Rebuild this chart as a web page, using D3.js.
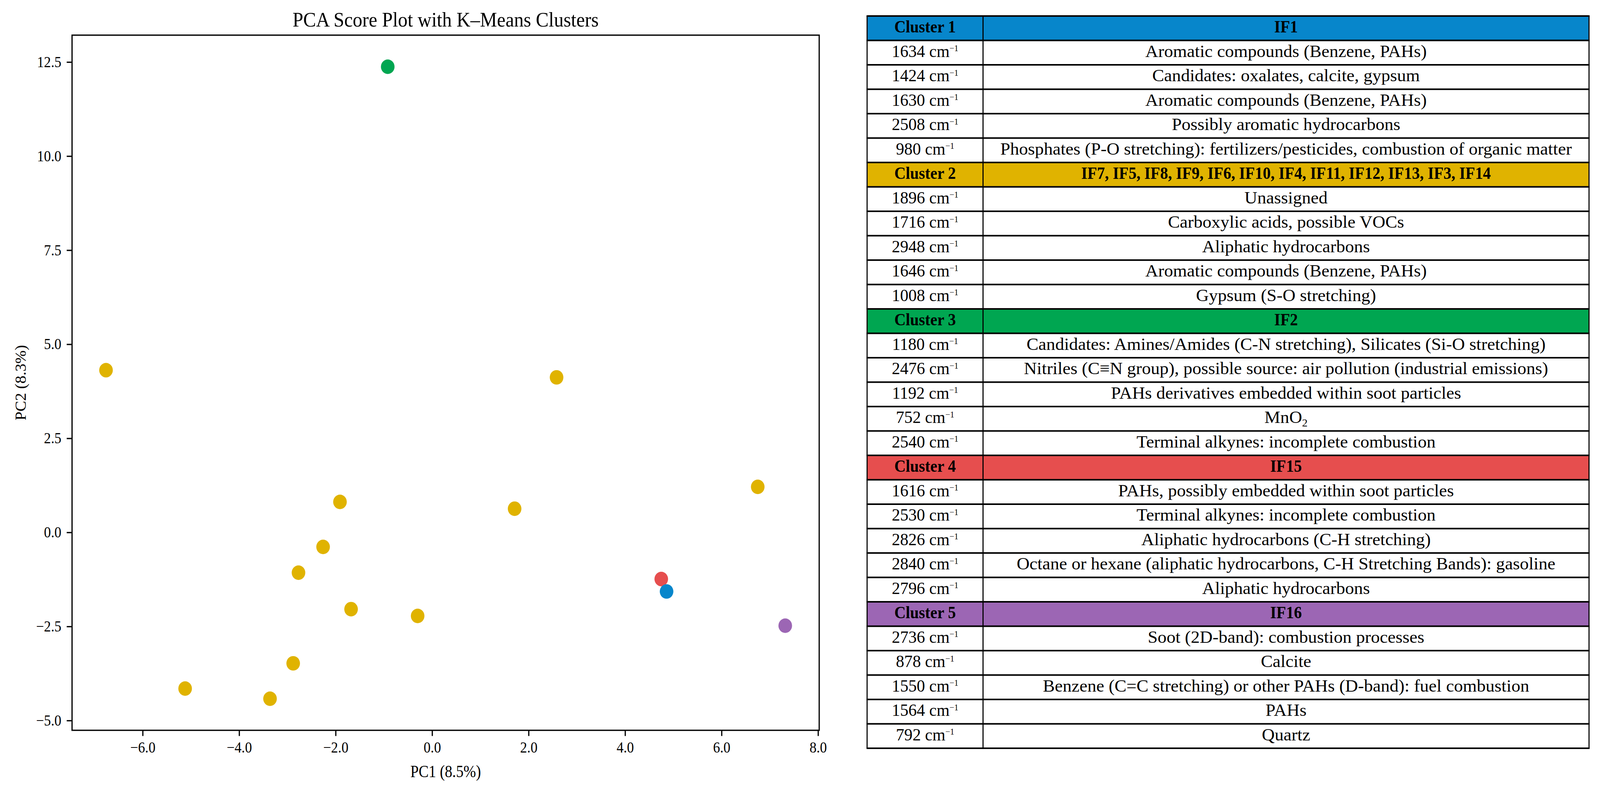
<!DOCTYPE html>
<html><head><meta charset="utf-8">
<script src="https://cdn.jsdelivr.net/npm/d3@7/dist/d3.min.js"></script>
<style>
html,body{margin:0;padding:0;background:#fff;overflow:hidden;width:100%;height:100%;}
svg{display:block;width:100vw;height:100vh;}
</style></head><body>
<svg id="chart" viewBox="0 0 4375 2028" preserveAspectRatio="none"></svg>
<script>
// ---------------- DATA ----------------
// PCA scores (PC1, PC2) and K-means cluster index (0..4) of each sample
const pc1 = [-6.76, 2.58, 6.75, -1.91, 1.71, -2.26, -2.77, -1.68, -0.30, -2.88, -5.12, -3.36, -0.92, 4.75, 4.86, 7.32];
const pc2 = [4.31, 4.12, 1.21, 0.81, 0.63, -0.385, -1.07, -2.04, -2.22, -3.48, -4.15, -4.42, 12.375, -1.24, -1.57, -2.48];
const pointCluster = [1, 1, 1, 1, 1, 1, 1, 1, 1, 1, 1, 1, 2, 3, 0, 4];

const clusterNames = ["Cluster 1", "Cluster 2", "Cluster 3", "Cluster 4", "Cluster 5"];
const clusterMembers = ["IF1", "IF7, IF5, IF8, IF9, IF6, IF10, IF4, IF11, IF12, IF13, IF3, IF14", "IF2", "IF15", "IF16"];
const clusterColors = ["#0786CB", "#E0B300", "#00A651", "#E64E4E", "#9C66B4"];

const wavenumbers = [
  [1634, 1424, 1630, 2508, 980],
  [1896, 1716, 2948, 1646, 1008],
  [1180, 2476, 1192, 752, 2540],
  [1616, 2530, 2826, 2840, 2796],
  [2736, 878, 1550, 1564, 792]
];
const assignments = [
  ["Aromatic compounds (Benzene, PAHs)", "Candidates: oxalates, calcite, gypsum", "Aromatic compounds (Benzene, PAHs)", "Possibly aromatic hydrocarbons", "Phosphates (P-O stretching): fertilizers/pesticides, combustion of organic matter"],
  ["Unassigned", "Carboxylic acids, possible VOCs", "Aliphatic hydrocarbons", "Aromatic compounds (Benzene, PAHs)", "Gypsum (S-O stretching)"],
  ["Candidates: Amines/Amides (C-N stretching), Silicates (Si-O stretching)", "Nitriles (C\u2261N group), possible source: air pollution (industrial emissions)", "PAHs derivatives embedded within soot particles", "MnO\u2082", "Terminal alkynes: incomplete combustion"],
  ["PAHs, possibly embedded within soot particles", "Terminal alkynes: incomplete combustion", "Aliphatic hydrocarbons (C-H stretching)", "Octane or hexane (aliphatic hydrocarbons, C-H Stretching Bands): gasoline", "Aliphatic hydrocarbons"],
  ["Soot (2D-band): combustion processes", "Calcite", "Benzene (C=C stretching) or other PAHs (D-band): fuel combustion", "PAHs", "Quartz"]
];

const xTicks = [-6, -4, -2, 0, 2, 4, 6, 8];
const yTicks = [-5, -2.5, 0, 2.5, 5, 7.5, 10, 12.5];
const titleText = "PCA Score Plot with K\u2013Means Clusters";
const xLabel = "PC1 (8.5%)";
const yLabel = "PC2 (8.3%)";

// ---------------- LAYOUT / STYLE ----------------
const FONT = '"Palatino Linotype","Book Antiqua",Palatino,"Liberation Serif","Times New Roman",serif';
const svg = d3.select("#chart");
const plot = {left: 197, right: 2240, top: 90, bottom: 1870};
const TB = {left: 2371, mid: 2688, right: 4345, top: 41, bottom: 1916};
const fsTitle = 52, fsLabel = 43.5, fsTick = 39, fsTable = 45;

// horizontal stretch factors so the fallback serif occupies Palatino's widths
function measure(str, fs, weight) {
  const t = svg.append("text").attr("font-family", FONT).attr("font-size", fs)
    .attr("font-weight", weight || "normal").text(str);
  const w = t.node().getComputedTextLength();
  t.remove();
  return w;
}
const kTitle = 837 / measure(titleText, fsTitle);
const kLabel = 193 / measure(xLabel, fsLabel);
const kTick = 66.5 / measure("12.5", fsTick);
const kTable = 1563 / measure(assignments[0][4], fsTable);
const kBold = 1120 / measure(clusterMembers[1], fsTable, "bold");
const kCol1 = 158 / measure("1634 cm", fsTable);

// ---------------- SCATTER ----------------
function padDomain(v) { const [a, b] = d3.extent(v); const m = (b - a) * 0.05; return [a - m, b + m]; }
const x = d3.scaleLinear().domain(padDomain(pc1)).range([plot.left, plot.right]);
const y = d3.scaleLinear().domain(padDomain(pc2)).range([plot.bottom, plot.top]);

svg.append("g").selectAll("circle").data(d3.range(pc1.length)).join("circle")
  .attr("cx", i => x(pc1[i])).attr("cy", i => y(pc2[i])).attr("r", 18.6)
  .attr("fill", i => clusterColors[pointCluster[i]]);

const fmt = d3.format(".1f");
const gx = svg.append("g").attr("transform", `translate(0,${plot.bottom})`)
  .call(d3.axisBottom(x).tickValues(xTicks).tickFormat(fmt).tickSize(14.6).tickPadding(14.6).tickSizeOuter(0));
const gy = svg.append("g").attr("transform", `translate(${plot.left},0)`)
  .call(d3.axisLeft(y).tickValues(yTicks).tickFormat(fmt).tickSize(14.6).tickPadding(14.6).tickSizeOuter(0));
[gx, gy].forEach(g => {
  g.select(".domain").remove();
  g.attr("font-family", FONT).attr("font-size", fsTick);
  g.selectAll("line").attr("stroke", "#000").attr("stroke-width", 3.3);
  g.selectAll("text").attr("fill", "#000");
});
gx.selectAll("text").attr("transform", `scale(${kTick},1)`);
gy.selectAll("text").each(function () {
  const t = d3.select(this); const xx = +t.attr("x");
  t.attr("x", 0).attr("transform", `translate(${xx},0) scale(${kTick},1)`);
});

svg.append("rect").attr("x", plot.left).attr("y", plot.top)
  .attr("width", plot.right - plot.left).attr("height", plot.bottom - plot.top)
  .attr("fill", "none").attr("stroke", "#000").attr("stroke-width", 3.3);

const cx = (plot.left + plot.right) / 2, cy = (plot.top + plot.bottom) / 2;
svg.append("text").attr("font-family", FONT).attr("font-size", fsTitle).attr("text-anchor", "middle")
  .attr("transform", `translate(${cx},68) scale(${kTitle},1)`).text(titleText);
svg.append("text").attr("font-family", FONT).attr("font-size", fsLabel).attr("text-anchor", "middle")
  .attr("transform", `translate(${cx},1990) scale(${kLabel},1)`).text(xLabel);
svg.append("text").attr("font-family", FONT).attr("font-size", fsLabel).attr("text-anchor", "middle")
  .attr("transform", `translate(71,${cy}) rotate(-90) scale(${kLabel},1)`).text(yLabel);

// ---------------- TABLE ----------------
const rows = [];
clusterNames.forEach((c, i) => {
  rows.push({head: true, a: c, b: clusterMembers[i], color: clusterColors[i]});
  wavenumbers[i].forEach((w, j) => rows.push({head: false, a: w, b: assignments[i][j]}));
});
const ry = d3.scaleBand().domain(d3.range(rows.length)).range([TB.top, TB.bottom]).padding(0);
const rh = ry.bandwidth();
const tbl = svg.append("g");

tbl.selectAll("rect.fill").data(rows.filter(r => r.head)).join("rect")
  .attr("x", TB.left).attr("width", TB.right - TB.left)
  .attr("y", r => ry(rows.indexOf(r))).attr("height", rh).attr("fill", r => r.color);

const c1 = (TB.left + TB.mid) / 2, c2 = (TB.mid + TB.right) / 2;
rows.forEach((r, i) => {
  const base = ry(i) + rh / 2 + 0.245 * fsTable;
  const weight = r.head ? "bold" : "normal";
  const k1 = r.head ? kBold : kCol1, k2 = r.head ? kBold : kTable;
  // first column
  const t1 = tbl.append("text").attr("font-family", FONT).attr("font-size", fsTable)
    .attr("font-weight", weight).attr("text-anchor", "middle")
    .attr("transform", `translate(${c1},${base}) scale(${k1},1)`);
  if (r.head) t1.text(r.a);
  else {
    t1.append("tspan").text(`${r.a} cm`);
    t1.append("tspan").attr("font-size", fsTable * 0.5).attr("dy", -0.32 * fsTable).text("\u22121");
  }
  // second column
  const t2 = tbl.append("text").attr("font-family", FONT).attr("font-size", fsTable)
    .attr("font-weight", weight).attr("text-anchor", "middle")
    .attr("transform", `translate(${c2},${base}) scale(${k2},1)`);
  const parts = String(r.b).split("\u2082");
  if (parts.length > 1) {
    t2.append("tspan").text(parts[0]);
    t2.append("tspan").attr("font-size", fsTable * 0.62).attr("dy", 0.2 * fsTable).text("2");
    if (parts[1]) t2.append("tspan").attr("dy", -0.2 * fsTable).text(parts[1]);
  } else t2.text(r.b);
});

// grid lines
tbl.selectAll("line.h").data(d3.range(rows.length + 1)).join("line")
  .attr("x1", TB.left - 1.5).attr("x2", TB.right + 1.5)
  .attr("y1", i => i < rows.length ? ry(i) : TB.bottom).attr("y2", i => i < rows.length ? ry(i) : TB.bottom)
  .attr("stroke", "#000").attr("stroke-width", 4);
tbl.selectAll("line.v").data([TB.left, TB.mid, TB.right]).join("line")
  .attr("x1", d => d).attr("x2", d => d).attr("y1", TB.top).attr("y2", TB.bottom)
  .attr("stroke", "#000").attr("stroke-width", 3);
</script>
</body></html>
